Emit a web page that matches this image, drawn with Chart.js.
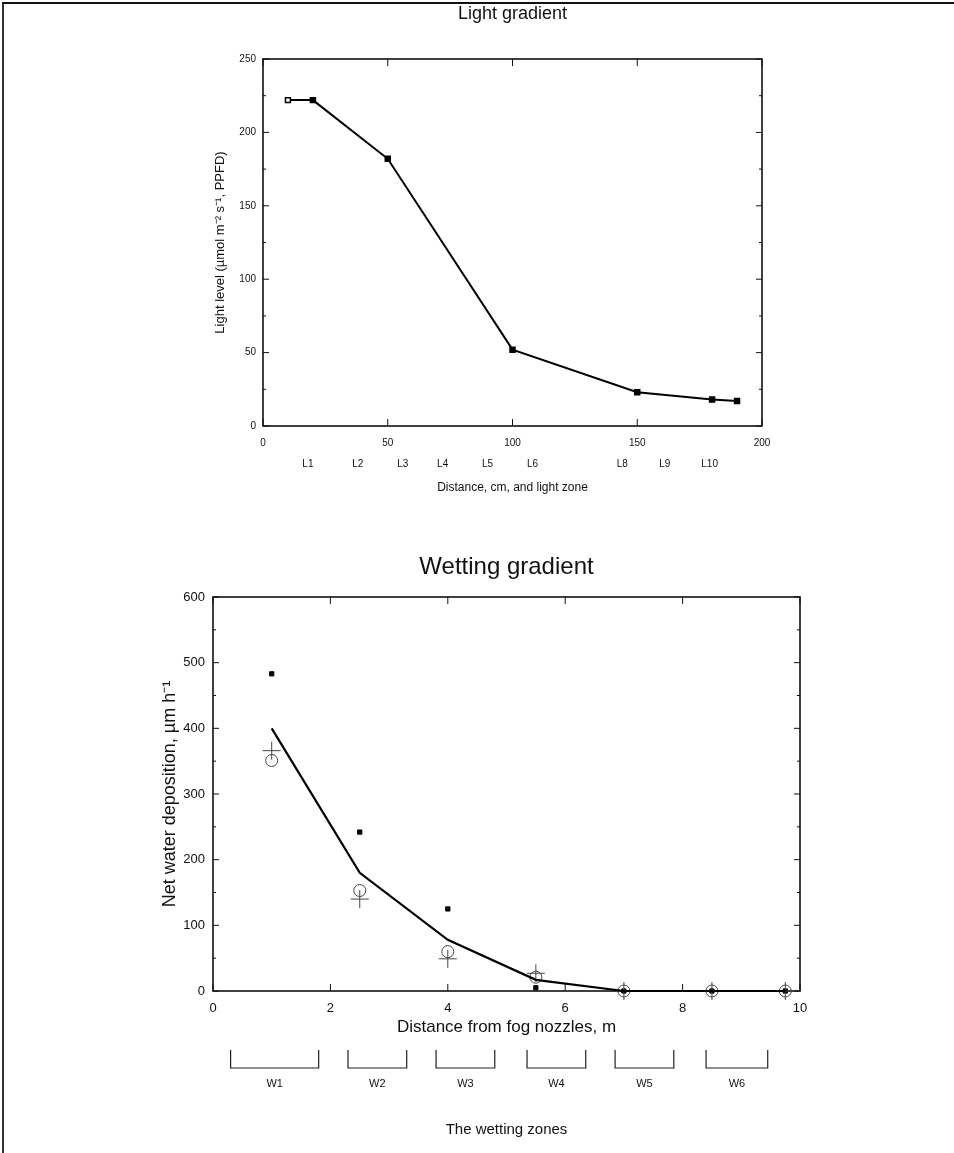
<!DOCTYPE html>
<html>
<head>
<meta charset="utf-8">
<script src="https://cdn.jsdelivr.net/npm/chart.js@4.4.1/dist/chart.umd.min.js"></script>
<style>
html, body { margin: 0; padding: 0; background: #fff; }
#page { position: relative; width: 954px; height: 1153px; overflow: hidden; }
#frame { position: absolute; left: 2px; top: 2px; width: 980px; height: 1180px; border-top: 2px solid #111; border-left: 2px solid #333; pointer-events: none; }
#light { position: absolute; left: 0; top: 0; }
#wet { position: absolute; left: 0; top: 530px; }
</style>
</head>
<body>
<div id="page">
  <canvas id="light" width="954" height="530"></canvas>
  <canvas id="wet" width="954" height="623"></canvas>
  <div id="frame"></div>
</div>
<script>
// Light gradient
var lightDist = [10, 20, 50, 100, 150, 180, 190];
var lightLevel = [222, 222, 182, 52, 23, 18, 17];
var lightZoneLabels = ['L1', 'L2', 'L3', 'L4', 'L5', 'L6', 'L8', 'L9', 'L10'];
var lightZonePos = [18, 38, 56, 72, 90, 108, 144, 161, 179];

// Wetting gradient
var wetDist = [1, 2.5, 4, 5.5, 7, 8.5, 9.75];
var wetFit = [400, 180, 78, 17, 0, 0, 0];
var wetSquares = [483, 242, 125, 5, 0, 0, 0];
var wetCircles = [351, 153, 60, 21, 0, 0, 0];
var wetCrosses = [366, 140, 49, 27, 0, 0, 0];
var wetZoneLabels = ['W1', 'W2', 'W3', 'W4', 'W5', 'W6'];
var wetZoneStart = [0.3, 2.3, 3.8, 5.35, 6.85, 8.4];
var wetZoneEnd = [1.8, 3.3, 4.8, 6.35, 7.85, 9.45];

var FONT = "'Liberation Sans', Arial, sans-serif";
Chart.defaults.font.family = FONT;
Chart.defaults.color = '#111';
Chart.defaults.animation = false;

function pts(xs, ys) {
    return xs.map(function(x, i) { return { x: x, y: ys[i] }; });
}

// box round the plot with inward ticks
var framePlugin = {
    id: 'frame',
    beforeDatasetsDraw: function(chart, args, o) {
        var a = chart.chartArea, ctx = chart.ctx;
        var xs = chart.scales.x, ys = chart.scales.y;
        ctx.save();
        ctx.strokeStyle = '#111';
        ctx.lineWidth = 1.6;
        ctx.strokeRect(a.left, a.top, a.right - a.left, a.bottom - a.top);
        ctx.lineWidth = 1;
        var v, p, len;
        for (v = ys.min; v <= ys.max + 1e-9; v += o.yMinor) {
            p = ys.getPixelForValue(v);
            len = (Math.abs(v / o.yMajor - Math.round(v / o.yMajor)) < 1e-6) ? 6 : 3;
            ctx.beginPath();
            ctx.moveTo(a.left, p); ctx.lineTo(a.left + len, p);
            ctx.moveTo(a.right, p); ctx.lineTo(a.right - len, p);
            ctx.stroke();
        }
        for (v = xs.min; v <= xs.max + 1e-9; v += o.xMajor) {
            p = xs.getPixelForValue(v);
            ctx.beginPath();
            ctx.moveTo(p, a.bottom); ctx.lineTo(p, a.bottom - 7);
            ctx.moveTo(p, a.top); ctx.lineTo(p, a.top + 7);
            ctx.stroke();
        }
        ctx.restore();
    }
};

// zone brackets under the wetting chart
var bracketPlugin = {
    id: 'brackets',
    afterDraw: function(chart, args, o) {
        if (!o.start) return;
        var ctx = chart.ctx, xs = chart.scales.x;
        ctx.save();
        ctx.strokeStyle = '#222';
        ctx.lineWidth = 1.2;
        o.start.forEach(function(s, i) {
            var x0 = xs.getPixelForValue(s), x1 = xs.getPixelForValue(o.end[i]);
            ctx.beginPath();
            ctx.moveTo(x0, o.top); ctx.lineTo(x0, o.bottom);
            ctx.lineTo(x1, o.bottom); ctx.lineTo(x1, o.top);
            ctx.stroke();
        });
        ctx.restore();
    }
};

new Chart(document.getElementById('light'), {
    type: 'scatter',
    data: {
        datasets: [{
            data: pts(lightDist, lightLevel),
            showLine: true,
            borderColor: '#000',
            borderWidth: 2,
            pointStyle: 'rect',
            pointRadius: 3.5,
            pointBorderWidth: 1.5,
            pointBorderColor: '#000',
            pointBackgroundColor: ['#fff', '#000', '#000', '#000', '#000', '#000', '#000'],
            clip: false
        }]
    },
    options: {
        responsive: false,
        layout: { padding: { left: 200, right: 192, top: 0, bottom: 34.8 } },
        plugins: {
            legend: { display: false },
            tooltip: { enabled: false },
            title: {
                display: true,
                fullSize: false,
                text: 'Light gradient',
                font: { size: 18, weight: 'normal' },
                padding: { top: 3.2, bottom: 34.2 }
            },
            frame: { yMajor: 50, yMinor: 25, xMajor: 50 }
        },
        scales: {
            x: {
                type: 'linear', min: 0, max: 200, weight: 0,
                ticks: { stepSize: 50, padding: 11, font: { size: 10 }, maxRotation: 0 },
                grid: { display: false, drawTicks: false },
                border: { display: false },
                afterFit: function(s) { s.height = 24; }
            },
            zone: {
                type: 'linear', axis: 'x', position: 'bottom', min: 0, max: 200, weight: 1,
                afterBuildTicks: function(s) { s.ticks = lightZonePos.map(function(v) { return { value: v }; }); },
                ticks: {
                    autoSkip: false, maxRotation: 0, padding: 8, font: { size: 10 },
                    callback: function(v, i) { return lightZoneLabels[i]; }
                },
                grid: { display: false, drawTicks: false },
                border: { display: false },
                title: { display: true, text: 'Distance, cm, and light zone', font: { size: 12 }, padding: 0 },
                afterFit: function(s) { s.height = 45.2; }
            },
            y: {
                min: 0, max: 250,
                ticks: { stepSize: 50, padding: 7, font: { size: 10 } },
                grid: { display: false, drawTicks: false },
                border: { display: false },
                title: { display: true, text: 'Light level (µmol m⁻² s⁻¹, PPFD)', font: { size: 13 }, padding: { top: 12.5, bottom: 0 } },
                afterFit: function(s) { s.width = 63; }
            }
        }
    },
    plugins: [framePlugin]
});

new Chart(document.getElementById('wet'), {
    type: 'scatter',
    data: {
        datasets: [{
            data: pts(wetDist, wetFit),
            showLine: true,
            borderColor: '#000',
            borderWidth: 2.2,
            pointRadius: 0,
            clip: false
        }, {
            data: pts(wetDist, wetCircles),
            pointStyle: 'circle',
            pointRadius: 6,
            pointBorderWidth: 1,
            pointBorderColor: '#444',
            pointBackgroundColor: 'rgba(0,0,0,0)',
            clip: false
        }, {
            data: pts(wetDist, wetCrosses),
            pointStyle: 'cross',
            pointRadius: 9,
            pointBorderWidth: 1,
            pointBorderColor: '#444',
            clip: false
        }, {
            data: pts(wetDist, wetSquares),
            pointStyle: 'rect',
            pointRadius: 3,
            pointBorderWidth: 1,
            pointBorderColor: '#000',
            pointBackgroundColor: '#000',
            clip: false
        }]
    },
    options: {
        responsive: false,
        layout: { padding: { left: 150, right: 154, top: 0, bottom: 14 } },
        plugins: {
            legend: { display: false },
            tooltip: { enabled: false },
            title: {
                display: true,
                fullSize: false,
                text: 'Wetting gradient',
                font: { size: 24, weight: 'normal' },
                padding: { top: 22.6, bottom: 15.6 }
            },
            frame: { yMajor: 100, yMinor: 50, xMajor: 2 },
            brackets: { start: wetZoneStart, end: wetZoneEnd, top: 520, bottom: 538 }
        },
        scales: {
            x: {
                type: 'linear', min: 0, max: 10, weight: 0,
                ticks: { stepSize: 2, padding: 10, font: { size: 13 }, maxRotation: 0 },
                grid: { display: false, drawTicks: false },
                border: { display: false },
                title: { display: true, text: 'Distance from fog nozzles, m', font: { size: 17 }, padding: 0 },
                afterFit: function(s) { s.height = 46.2; }
            },
            zone: {
                type: 'linear', axis: 'x', position: 'bottom', min: 0, max: 10, weight: 1,
                afterBuildTicks: function(s) {
                    s.ticks = wetZoneStart.map(function(v, i) { return { value: (v + wetZoneEnd[i]) / 2 }; });
                },
                ticks: {
                    autoSkip: false, maxRotation: 0, padding: 40, font: { size: 11 },
                    callback: function(v, i) { return wetZoneLabels[i]; }
                },
                grid: { display: false, drawTicks: false },
                border: { display: false },
                title: { display: true, text: 'The wetting zones', font: { size: 15 }, padding: 0 },
                afterFit: function(s) { s.height = 101.8; }
            },
            y: {
                min: 0, max: 600,
                ticks: { stepSize: 100, padding: 8, font: { size: 13 } },
                grid: { display: false, drawTicks: false },
                border: { display: false },
                title: { display: true, text: 'Net water deposition, µm h⁻¹', font: { size: 18 }, padding: { top: 9, bottom: 0 } },
                afterFit: function(s) { s.width = 63; }
            }
        }
    },
    plugins: [framePlugin, bracketPlugin]
});
</script>
</body>
</html>
